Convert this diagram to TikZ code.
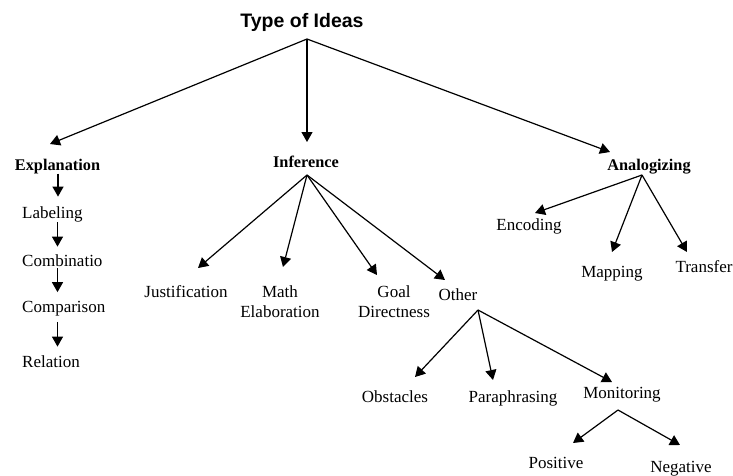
\documentclass[tikz,border=0pt]{standalone}
\usepackage{fontspec}
\setmainfont{Liberation Serif}
\newfontfamily\ideatitlefont{Liberation Sans}
\usetikzlibrary{arrows.meta}
\definecolor{ideaInk}{HTML}{000000}
\tikzset{
  every picture/.style={text=ideaInk},
  idea title/.style={font=\ideatitlefont\bfseries\fontsize{19.5}{22}\selectfont,
    inner sep=0pt, anchor=base},
  idea head/.style={font=\bfseries\fontsize{16.3}{19}\selectfont,
    inner sep=0pt, anchor=base},
  idea leaf/.style={font=\fontsize{17}{20}\selectfont, inner sep=0pt,
    anchor=base, align=center},
  idea arrow/.style={-{Triangle[length=10pt,width=11pt]},
    draw=ideaInk, line width=1.2pt}
}
\begin{document}
\begin{tikzpicture}[x=1pt,y=-1pt]
  \useasboundingbox (0,0) rectangle (733,475);
  \node[idea title] (root) at (302,27) {Type of Ideas};
  % top level
  \node[idea head] (exp) at (57.5,170) {Explanation};
  \node[idea head] (inf) at (306,167) {Inference};
  \node[idea head] (ana) at (649,170) {Analogizing};
  \coordinate (root-apex) at (307,39);
  \coordinate (exp-tip) at (50,144);
  \coordinate (inf-tip) at (307,142);
  \coordinate (ana-tip) at (610,152);
  \draw[idea arrow] (root-apex) -- (exp-tip);
  \draw[idea arrow] (root-apex) -- (inf-tip);
  \draw[idea arrow] (root-apex) -- (ana-tip);
  % explanation chain
  \node[idea leaf,anchor=base west] (lab) at (22,218) {Labeling};
  \node[idea leaf,anchor=base west] (com) at (22,266) {Combinatio};
  \node[idea leaf,anchor=base west] (cmp) at (22,312) {Comparison};
  \node[idea leaf,anchor=base west] (rel) at (22,367) {Relation};
  \draw[idea arrow] ([xshift=0.5pt]exp.south) -- ([xshift=0.5pt,yshift=9.4pt]exp.south |- lab.north);
  \draw[idea arrow] ([yshift=-0.3pt]exp.south |- lab.south) -- ([yshift=7.4pt]exp.south |- com.north);
  \draw[idea arrow] ([yshift=-2pt]exp.south |- com.south) -- ([yshift=8.4pt]exp.south |- cmp.north);
  \draw[idea arrow] ([yshift=-6pt]exp.south |- cmp.south) -- ([yshift=8.4pt]exp.south |- rel.north);
  % inference
  \node[idea leaf] (jus) at (186,297) {Justification};
  \node[idea leaf] (mat) at (280,317) {Math\\Elaboration};
  \node[idea leaf] (goa) at (394,317) {Goal\\Directness};
  \node[idea leaf] (oth) at (458,300) {Other};
  \coordinate (inf-apex) at (307,175);
  \coordinate (jus-tip) at (198,268);
  \coordinate (mat-tip) at (283,267);
  \coordinate (goa-tip) at (377,275);
  \coordinate (oth-tip) at (445,280);
  \foreach \n in {jus,mat,goa,oth}
    \draw[idea arrow] (inf-apex) -- (\n-tip);
  % other
  \node[idea leaf] (obs) at (395,402) {Obstacles};
  \node[idea leaf] (par) at (513,402) {Paraphrasing};
  \node[idea leaf] (mon) at (622,398) {Monitoring};
  \coordinate (oth-apex) at (478,310);
  \coordinate (obs-tip) at (415,377);
  \coordinate (par-tip) at (493,380);
  \coordinate (mon-tip) at (612,382);
  \foreach \n in {obs,par,mon}
    \draw[idea arrow] (oth-apex) -- (\n-tip);
  % monitoring
  \node[idea leaf] (pos) at (556,468) {Positive};
  \node[idea leaf] (neg) at (681,472) {Negative};
  \coordinate (mon-apex) at (618,410);
  \coordinate (pos-tip) at (573,443);
  \coordinate (neg-tip) at (680,445);
  \foreach \n in {pos,neg}
    \draw[idea arrow] (mon-apex) -- (\n-tip);
  % analogizing
  \node[idea leaf] (enc) at (529,230) {Encoding};
  \node[idea leaf] (map) at (612,277) {Mapping};
  \node[idea leaf] (tra) at (704,272) {Transfer};
  \coordinate (ana-apex) at (642,175);
  \coordinate (enc-tip) at (535,213);
  \coordinate (map-tip) at (612,252);
  \coordinate (tra-tip) at (687,252);
  \foreach \n in {enc,map,tra}
    \draw[idea arrow] (ana-apex) -- (\n-tip);
\end{tikzpicture}
\end{document}
